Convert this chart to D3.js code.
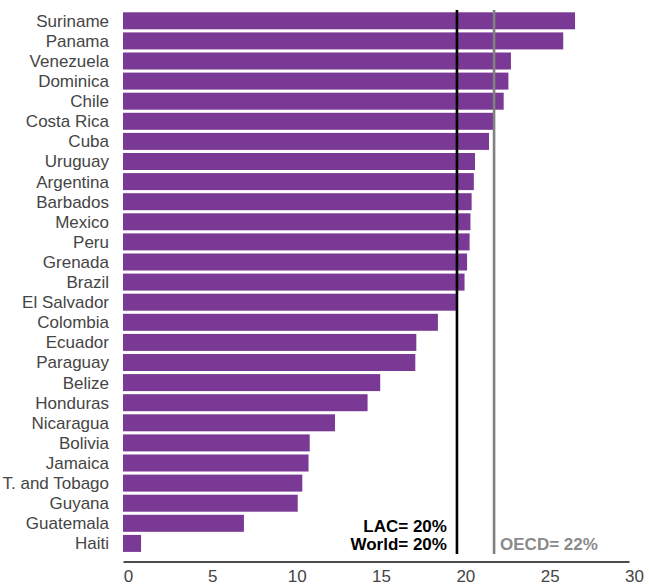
<!DOCTYPE html>
<html lang="en">
<head>
<meta charset="UTF-8">
<title>Chart</title>
<script src="https://cdn.jsdelivr.net/npm/d3@7"></script>
<style>
body{margin:0;background:#fff;}
text{font-family:"Liberation Sans",Arial,Helvetica,sans-serif;}
</style>
</head>
<body>
<script>
var countries = ["Suriname","Panama","Venezuela","Dominica","Chile","Costa Rica","Cuba","Uruguay","Argentina","Barbados","Mexico","Peru","Grenada","Brazil","El Salvador","Colombia","Ecuador","Paraguay","Belize","Honduras","Nicaragua","Bolivia","Jamaica","T. and Tobago","Guyana","Guatemala","Haiti"];
var values = [26.8,26.1,23.0,22.85,22.57,22.0,21.7,20.87,20.8,20.67,20.6,20.55,20.4,20.25,19.74,18.67,17.39,17.33,15.25,14.5,12.57,11.07,11.0,10.63,10.36,7.17,1.07];
var ticks = [0,5,10,15,20,25,30];
var lacValue = 19.8, oecdValue = 22.0;

var width = 649, height = 586;
var svg = d3.select("body").append("svg").attr("width",width).attr("height",height);

var x = d3.scaleLinear().domain([0,30]).range([123,629]);
var y = d3.scaleBand().domain(countries).range([10.75,553.45]).paddingInner(0.154).paddingOuter(0.077);

//bars
svg.selectAll(".bar").data(countries).enter().append("rect").attr("class","bar")
	.attr("x",x(0)).attr("y",function(d){return y(d);})
	.attr("width",function(d,i){return x(values[i])-x(0);})
	.attr("height",y.bandwidth()).attr("fill","#7a3994");

//category labels
svg.selectAll(".cat").data(countries).enter().append("text").attr("class","cat")
	.attr("x",109).attr("y",function(d){return y(d)+y.bandwidth()/2;}).attr("dy","0.35em")
	.attr("text-anchor","end").attr("font-size","17px").attr("fill","#454545")
	.text(function(d){return d;});

//reference lines
svg.append("line").attr("x1",x(lacValue)).attr("x2",x(lacValue)).attr("y1",10).attr("y2",554)
	.attr("stroke","#000").attr("stroke-width",2.6);
svg.append("line").attr("x1",x(oecdValue)).attr("x2",x(oecdValue)).attr("y1",10).attr("y2",554)
	.attr("stroke","#808080").attr("stroke-width",2.6);

svg.append("text").attr("x",x(lacValue)-10).attr("y",531.5).attr("text-anchor","end")
	.attr("font-size","17px").attr("font-weight","bold").attr("fill","#000").text("LAC= 20%");
svg.append("text").attr("x",x(lacValue)-10).attr("y",550).attr("text-anchor","end")
	.attr("font-size","17px").attr("font-weight","bold").attr("fill","#000").text("World= 20%");
svg.append("text").attr("x",x(oecdValue)+6).attr("y",550).attr("text-anchor","start")
	.attr("font-size","17px").attr("font-weight","bold").attr("fill","#8a8a8a").text("OECD= 22%");

//axis
var axis = svg.append("g").attr("transform","translate(0,561.5)")
	.call(d3.axisBottom(x).tickValues(ticks).tickSize(0).tickPadding(8).tickFormat(d3.format("d")));
axis.select(".domain").attr("stroke","#111").attr("stroke-width",1.6);
axis.selectAll("text").attr("font-size","17px").attr("fill","#444").attr("dx","5")
	.style("font-family","'Liberation Sans',Arial,sans-serif");
</script>
</body>
</html>
